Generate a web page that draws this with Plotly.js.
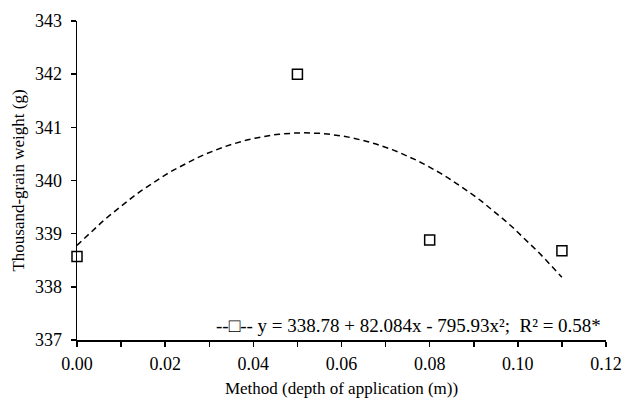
<!DOCTYPE html>
<html><head><meta charset="utf-8">
<script src="https://cdn.plot.ly/plotly-3.0.1.min.js"></script>
<style>body{margin:0;background:#fff}#c{width:624px;height:398px}</style>
</head><body><div id="c"></div>
<script>
const depth = [0.00, 0.05, 0.08, 0.11];
const weight = [338.57, 342.00, 338.88, 338.68];
const coef = [338.78, 82.084, -795.93];
const fitRange = [0.00, 0.11];
const xTicks = [0, 0.02, 0.04, 0.06, 0.08, 0.10, 0.12];
const xTickText = ["0.00","0.02","0.04","0.06","0.08","0.10","0.12"];
const yTicks = [337, 338, 339, 340, 341, 342, 343];

const fx = [], fy = [];
const n = 60;
for (let i = 0; i <= n; i++) {
  const x = fitRange[0] + (fitRange[1] - fitRange[0]) * i / n;
  fx.push(x);
  fy.push(coef[0] + coef[1] * x + coef[2] * x * x);
}
const font = "Liberation Serif";
const data = [
  {x: fx, y: fy, mode: "lines", line: {color: "#000", width: 1.5, dash: "6px,4px"}, hoverinfo: "skip", showlegend: false, cliponaxis: false},
  {x: depth, y: weight, mode: "markers", marker: {symbol: "square-open", size: 10, color: "#000", line: {width: 1.5, color: "#000"}}, showlegend: false, cliponaxis: false}
];
const layout = {
  width: 624, height: 398,
  margin: {l: 77, r: 18, t: 21, b: 58},
  paper_bgcolor: "#fff", plot_bgcolor: "#fff",
  font: {family: font, size: 18, color: "#000"},
  xaxis: {range: [0, 0.12], tickvals: xTicks, ticktext: xTickText, showgrid: false, zeroline: false,
    showline: true, linecolor: "#000", linewidth: 1.5, ticks: "outside", ticklen: 5, tickwidth: 1.5, tickcolor: "#000",
    tickfont: {size: 18, family: font}, ticklabelstandoff: 2,
    minor: {dtick: 0.01, ticks: "outside", ticklen: 5, tickwidth: 1.5, tickcolor: "#000", showgrid: false},
    title: {text: "Method (depth of application (m))", font: {size: 17, family: font}, standoff: 13}},
  yaxis: {range: [337, 343], tickvals: yTicks, showgrid: false, zeroline: false,
    showline: true, linecolor: "#000", linewidth: 1.5, ticks: "outside", ticklen: 5, tickwidth: 1.5, tickcolor: "#000",
    tickfont: {size: 18, family: font}, ticklabelstandoff: 5,
    title: {text: "Thousand-grain weight (g)", font: {size: 17, family: font}, standoff: 6}},
  annotations: [{xref: "paper", yref: "paper", x: 0.995, y: 0.005, xanchor: "right", yanchor: "bottom", showarrow: false,
    text: "--□-- y = 338.78 + 82.084x - 795.93x²;  R² = 0.58*", font: {size: 19, family: font}}]
};
Plotly.newPlot("c", data, layout, {displayModeBar: false, staticPlot: true});
</script></body></html>
